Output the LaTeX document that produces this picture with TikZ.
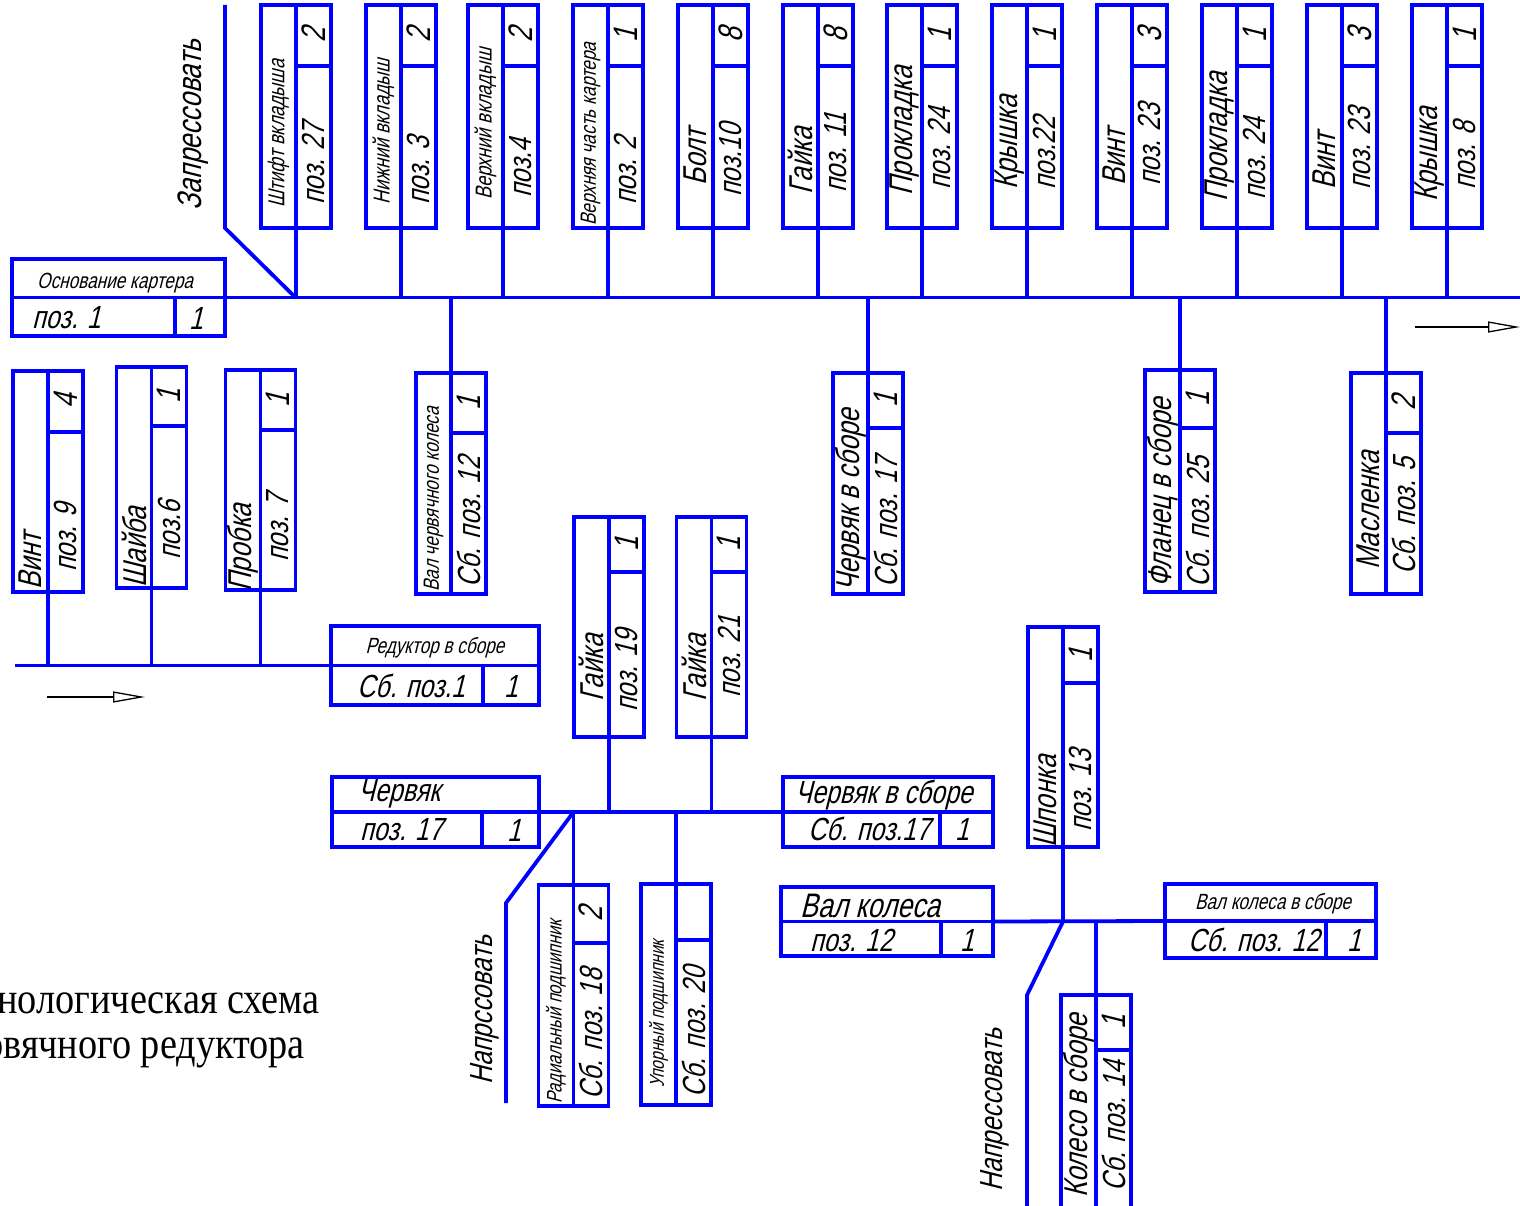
\documentclass[tikz,border=0pt]{standalone}
\usepackage{fontspec}
\setmainfont{Liberation Sans}
\newfontfamily\gost[FakeSlant=0.25,FakeStretch=0.78]{Liberation Sans}
\newfontfamily\capfont[FakeStretch=0.87]{Liberation Serif}
\usetikzlibrary{arrows.meta,calc}
\definecolor{lineblue}{RGB}{0,0,255}
\tikzset{
  ln/.style={draw=lineblue, line width=3.8pt},
  boxst/.style={ln, rectangle, minimum width=70pt, inner sep=0pt, outer sep=0pt},
  gt/.style={font={\gost\fontsize{#1}{#1}\selectfont}, inner sep=0pt, text=black},
  flow/.style={draw=black, line width=1.3pt, -{Triangle[open,length=32pt,width=11pt]}},
}
\newcommand\partbox[5]{%
  \node[boxst, minimum height={(#4)-(#3)}, anchor=north] (#1) at (#2,#3) {};
  \draw[ln] (#1.north) -- (#1.south);
  \draw[ln] ($(#1.north)+(0,#5-#3)$) -- ($(#1.north east)+(0,#5-#3)$);
}
\newcommand\parttext[9]{%
  \node[gt=#3, rotate=90, anchor=west] (#1-n) at (#2-17.5,#5) {#4};
  \node[gt=32, rotate=90, anchor=west] (#1-p) at (#2+17.5,#7) {#6};
  \node[gt=34, rotate=90] (#1-c) at (#2+17.5,#9) {#8};
}
\newcommand\partH[6]{%
  \node[ln, rectangle, inner sep=0pt, outer sep=0pt, minimum width={(#4)-(#2)}, minimum height={(#5)-(#3)}, anchor=north west] (#1) at (#2,#3) {};
  \draw[ln] (#1.west) -- (#1.east);
  \draw[ln] ($(#1.south west)+(#6-#2,0)$) -- ($(#1.west)+(#6-#2,0)$);
}
\begin{document}
\begin{tikzpicture}[x=1pt,y=-1pt]
\useasboundingbox (0,0) rectangle (1520,1206);
\clip (0,0) rectangle (1520,1206);

% ---------- main bus ----------
\partH{osn}{12}{259}{225}{336}{175}
\coordinate (busE) at (1520,298);
\draw[ln] (osn.east) -- (busE |- osn.east);
\node[gt=22] (osn-n) at (115,283) {Основание картера};
\node[gt=32, anchor=west] (osn-p) at (32,318) {поз. 1};
\node[gt=32] (osn-c) at (196,318) {1};

% top boxes
\partbox{t1}{296}{5}{228}{66}
\partbox{t2}{401}{5}{228}{66}
\partbox{t3}{503}{5}{228}{66}
\partbox{t4}{608}{5}{228}{66}
\partbox{t5}{713}{5}{228}{66}
\partbox{t6}{818}{5}{228}{66}
\partbox{t7}{922}{5}{228}{66}
\partbox{t8}{1027}{5}{228}{66}
\partbox{t9}{1132}{5}{228}{66}
\partbox{t10}{1237}{5}{228}{66}
\partbox{t11}{1342}{5}{228}{66}
\partbox{t12}{1447}{5}{228}{66}
\parttext{t1}{296}{23}{Штифт вкладыша}{208}{поз. 27}{205}{2}{35}
\parttext{t2}{401}{23}{Нижний вкладыш}{205}{поз. 3}{205}{2}{35}
\parttext{t3}{503}{23}{Верхний вкладыш}{200}{поз.4}{198}{2}{35}
\parttext{t4}{608}{22}{Верхняя часть картера}{226}{поз. 2}{205}{1}{35}
\parttext{t5}{713}{33}{Болт}{186}{поз.10}{197}{8}{35}
\parttext{t6}{818}{33}{Гайка}{195}{поз. 11}{193}{8}{35}
\parttext{t7}{922}{33}{Прокладка}{196}{поз. 24}{190}{1}{35}
\parttext{t8}{1027}{33}{Крышка}{190}{поз.22}{190}{1}{35}
\parttext{t9}{1132}{33}{Винт}{186}{поз. 23}{186}{3}{35}
\parttext{t10}{1237}{33}{Прокладка}{202}{поз. 24}{200}{1}{35}
\parttext{t11}{1342}{33}{Винт}{190}{поз. 23}{190}{3}{35}
\parttext{t12}{1447}{33}{Крышка}{202}{поз. 8}{190}{1}{35}
\foreach \b in {t1,t2,t3,t4,t5,t6,t7,t8,t9,t10,t11,t12}
  \draw[ln] (\b.south) -- (\b.south |- busE);

% Запрессовать
\coordinate (zp0) at (225,5);
\coordinate (zp1) at (225,228);
\draw[ln] (zp0) -- (zp1) -- (t1.south |- busE);
\node[gt=34, rotate=90] (zp-t) at (193,125) {Запрессовать};

% hanging boxes
\partbox{m1}{451}{373}{594}{433}
\partbox{m2}{868}{373}{594}{428}
\partbox{m3}{1180}{370}{592}{428}
\partbox{m4}{1386}{373}{594}{433}
\parttext{m1}{451}{22}{Вал червячного колеса}{592}{Сб. поз. 12}{588}{1}{403}
\parttext{m2}{868}{33}{Червяк в сборе}{592}{Сб. поз. 17}{588}{1}{400}
\parttext{m3}{1180}{33}{Фланец в сборе}{588}{Сб. поз. 25}{588}{1}{399}
\parttext{m4}{1386}{33}{Масленка}{570}{Сб. поз. 5}{575}{2}{403}
\foreach \b in {m1,m2,m3,m4}
  \draw[ln] (\b.north |- busE) -- (\b.north);

\coordinate (ar1s) at (1415,327);
\coordinate (ar1e) at (1520,327);
\draw[flow] (ar1s) -- (ar1e);

% ---------- left bus ----------
\partH{red}{331}{626}{539}{705}{483}
\node[gt=22] (red-n) at (435,648) {Редуктор в сборе};
\node[gt=32, anchor=west] (red-p) at (357,686) {Сб. поз.1};
\node[gt=32] (red-c) at (511,686) {1};
\coordinate (lbW) at (15,664);
\draw[ln] (lbW |- red.west) -- (red.west);
\partbox{l1}{48}{371}{592}{432}
\partbox{l2}{151.5}{367}{588}{426}
\partbox{l3}{260.5}{370}{590}{430}
\parttext{l1}{48}{33}{Винт}{590}{поз. 9}{572}{4}{401}
\parttext{l2}{151.5}{33}{Шайба}{588}{поз.6}{560}{1}{396}
\parttext{l3}{260.5}{33}{Пробка}{592}{поз. 7}{562}{1}{400}
\foreach \b in {l1,l2,l3}
  \draw[ln] (\b.south) -- (\b.south |- red.west);
\coordinate (ar2s) at (47,697);
\coordinate (ar2e) at (145,697);
\draw[flow] (ar2s) -- (ar2e);

% ---------- worm assembly ----------
\partH{cherv}{332}{777}{539}{847}{482}
\partH{chs}{783}{777}{993}{847}{940}
\node[gt=32, anchor=west] (cherv-n) at (358,794) {Червяк};
\node[gt=32, anchor=west] (cherv-p) at (360,830) {поз. 17};
\node[gt=32] (cherv-c) at (514,830) {1};
\node[gt=32, anchor=west] (chs-n) at (795,795) {Червяк в сборе};
\node[gt=32, anchor=west] (chs-p) at (808,829) {Сб. поз.17};
\node[gt=32] (chs-c) at (962,829) {1};
\draw[ln] (cherv.east) -- (chs.west);
\partbox{g19}{609}{517}{737}{572}
\partbox{g21}{711.5}{517}{737}{572}
\parttext{g19}{609}{33}{Гайка}{702}{поз. 19}{712}{1}{544}
\parttext{g21}{711.5}{33}{Гайка}{702}{поз. 21}{698}{1}{544}
\foreach \b in {g19,g21}
  \draw[ln] (\b.south) -- (\b.south |- cherv.east);
\partbox{b18}{573.5}{885}{1106}{943}
\partbox{b20}{676}{884}{1105}{940}
\parttext{b18}{573.5}{21}{Радиальный подшипник}{1104}{Сб. поз. 18}{1100}{2}{914}
\parttext{b20}{676}{20}{Упорный подшипник}{1088}{Сб. поз. 20}{1098}{}{912}
\foreach \b in {b18,b20}
  \draw[ln] (\b.north |- cherv.east) -- (\b.north);
\coordinate (np1) at (506,903);
\coordinate (np2) at (506,1103);
\draw[ln] (b18.north |- cherv.east) -- (np1) -- (np2);
\node[gt=32, rotate=90] (np-t) at (485,1010) {Напрссовать};

% ---------- wheel assembly ----------
\partH{valk}{781}{887}{993}{956}{941}
\partH{valks}{1165}{884}{1376}{958}{1326}
\node[gt=34, anchor=west] (valk-n) at (800,906) {Вал колеса};
\node[gt=32, anchor=west] (valk-p) at (810,940) {поз. 12};
\node[gt=32] (valk-c) at (967,940) {1};
\node[gt=22] (valks-n) at (1273,904) {Вал колеса в сборе};
\node[gt=32, anchor=west] (valks-p) at (1188,940) {Сб. поз. 12};
\node[gt=32] (valks-c) at (1354,940) {1};
\draw[ln] (valk.east) -- (valks.west);
\partbox{shp}{1063}{627}{847}{683}
\parttext{shp}{1063}{33}{Шпонка}{848}{поз. 13}{832}{1}{655}
\draw[ln] (shp.south) -- (shp.south |- valk.east);
\partbox{kol}{1096}{995}{1214}{1050}
\parttext{kol}{1096}{33}{Колесо в сборе}{1198}{Сб. поз. 14}{1192}{1}{1022}
\draw[ln] (kol.north |- valk.east) -- (kol.north);
\coordinate (nq1) at (1027,995);
\coordinate (nq2) at (1027,1214);
\draw[ln] (shp.south |- valk.east) -- (nq1) -- (nq2);
\node[gt=32, rotate=90] (nq-t) at (995,1110) {Напрессовать};

% ---------- caption ----------
\node[font={\capfont\fontsize{44}{44}\selectfont}, anchor=base east, inner sep=0pt] (cap1) at (320,1013) {нологическая схема};
\node[font={\capfont\fontsize{44}{44}\selectfont}, anchor=base east, inner sep=0pt] (cap2) at (305,1058) {овячного редуктора};
\end{tikzpicture}
\end{document}
